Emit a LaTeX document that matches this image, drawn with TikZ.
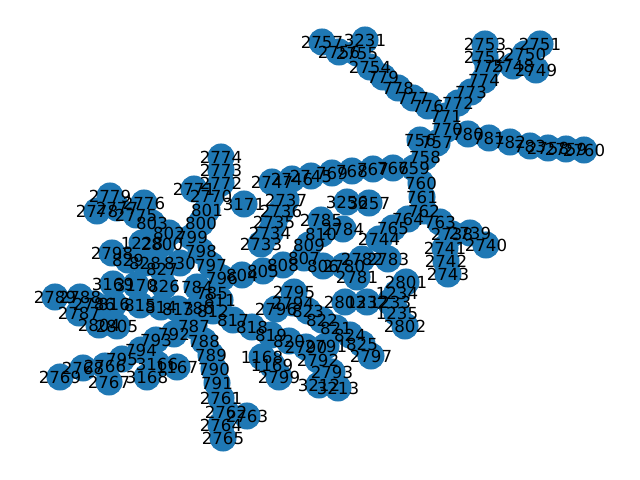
\documentclass[tikz,border=0pt]{standalone}
\usepackage{fontspec}
\setmainfont{DejaVu Sans}
\definecolor{nxblue}{HTML}{1F78B4}
\def\nodelist{2757/322/42, 3231/365/40, 2756/339/52, 2755/357/53, 2754/370/67, 779/383/77, 778/398/88, 777/413/98, 776/428/106, 771/446/116, 772/458/103, 773/471/92, 774/484/80, 775/488/67, 2752/485/57, 2753/485/44, 2748/513/66, 2750/525/54, 2751/540/44, 2749/536/70, 770/447/129, 780/468/134, 781/489/138, 782/510/142, 783/530/146, 2758/548/148, 2759/566/149, 2760/584/150, 756/420/140, 757/437/143, 758/425/157, 759/414/168, 760/421/183, 761/422/197, 762/424/211, 763/440/222, 764/408/219, 765/393/228, 2744/379/239, 2738/452/234, 2739/470/233, 2740/486/245, 2741/445/248, 2742/446/261, 2743/448/274, 766/393/168, 767/373/169, 768/352/171, 769/332/173, 2745/311/176, 2746/292/179, 2747/272/182, 2737/286/200, 2736/281/211, 2735/274/222, 2734/270/233, 2733/261/244, 3171/244/204, 3256/347/202, 3257/369/203, 2785/321/220, 2784/343/229, 810/321/234, 809/309/245, 807/304/258, 808/283/265, 805/263/271, 804/242/275, 806/323/266, 2780/344/266, 2782/362/259, 2783/388/259, 2781/357/277, 2801/406/282, 1234/397/293, 1233/390/302, 1232/367/302, 2803/345/302, 1235/397/313, 2802/405/326, 2795/294/292, 2794/293/303, 2796/276/309, 823/308/311, 822/322/320, 821/336/328, 824/350/335, 825/362/344, 2797/371/356, 818/252/327, 819/271/335, 820/289/341, 2790/306/347, 2791/326/346, 2792/318/360, 2793/332/372, 3212/319/385, 3213/338/388, 1168/262/357, 1169/272/365, 2799/279/377, 817/233/320, 811/220/300, 812/213/311, 785/212/293, 784/197/287, 786/198/308, 813/178/309, 814/161/307, 815/140/305, 816/114/304, 2786/94/304, 2788/80/297, 2789/55/297, 2787/79/313, 2804/99/325, 2805/117/326, 796/222/278, 797/211/265, 798/201/251, 799/192/237, 800/201/223, 801/207/210, 2770/211/196, 2771/194/189, 2772/221/183, 2773/221/170, 2774/221/157, 802/169/233, 803/152/223, 2775/136/215, 2776/144/203, 2777/117/208, 2778/97/211, 2779/110/196, 1228/142/243, 2800/162/244, 2798/112/253, 829/128/260, 828/145/263, 827/162/269, 830/180/263, 3169/113/284, 3170/136/285, 826/164/286, 787/194/326, 788/204/341, 789/211/355, 790/214/369, 791/217/383, 2761/221/398, 2762/226/412, 2763/247/416, 2764/221/425, 2765/223/438, 792/174/334, 793/156/340, 794/141/350, 795/122/359, 3166/157/364, 1167/177/367, 3168/147/377, 2767/109/382, 2766/105/366, 2768/83/368, 2769/60/377}
\def\edgelist{2757/2756, 2756/2755, 3231/2755, 2755/2754, 2754/779, 779/778, 778/777, 777/776, 776/771, 771/772, 772/773, 773/774, 774/775, 775/2752, 2752/2753, 775/2748, 2748/2750, 2750/2751, 2748/2749, 771/770, 770/780, 780/781, 781/782, 782/783, 783/2758, 2758/2759, 2759/2760, 770/757, 757/756, 757/758, 758/759, 759/760, 760/761, 761/762, 762/763, 763/2738, 2738/2739, 2739/2740, 2738/2741, 2741/2742, 2742/2743, 762/764, 764/765, 765/2744, 759/766, 766/767, 767/768, 768/769, 769/2745, 2745/2746, 2746/2747, 2747/2737, 2737/2736, 2736/2735, 2735/2734, 2734/2733, 3256/3257, 2785/2784, 2785/810, 810/809, 809/807, 807/808, 808/805, 805/804, 804/796, 796/797, 797/798, 798/799, 799/800, 800/801, 801/2770, 2770/2771, 2770/2772, 2772/2773, 2773/2774, 799/802, 802/803, 803/2775, 2775/2776, 2775/2777, 2777/2778, 2777/2779, 807/806, 806/2780, 2780/2782, 2782/2783, 2780/2781, 2801/1234, 1234/1233, 1233/1232, 1232/2803, 1234/1235, 1235/2802, 796/785, 785/784, 785/811, 811/812, 812/786, 786/813, 813/814, 814/815, 815/816, 816/2786, 2786/2788, 2788/2789, 2786/2787, 2787/2804, 2804/2805, 812/817, 817/818, 818/819, 819/820, 820/2790, 2790/2791, 2790/2792, 2792/2793, 2793/3212, 3212/3213, 819/1168, 1168/1169, 1169/2799, 2796/2794, 2794/2795, 2794/823, 823/822, 822/821, 821/824, 824/825, 825/2797, 786/787, 787/788, 788/789, 789/790, 790/791, 791/2761, 2761/2762, 2762/2763, 2762/2764, 2764/2765, 787/792, 792/793, 793/794, 794/795, 794/3166, 3166/1167, 3166/3168, 795/2766, 2766/2767, 2766/2768, 2768/2769, 814/826, 826/827, 827/828, 828/829, 829/2798, 827/830, 830/798, 815/3170, 3170/3169, 802/2800, 2800/1228}
\begin{document}
\begin{tikzpicture}[x=0.01in,y=-0.01in,
  vert/.style={circle,fill=nxblue,minimum size=19.54pt,inner sep=0pt},
  lab/.style={font=\fontsize{12}{14}\selectfont,inner sep=0pt,text=black},
  edge/.style={draw=black,line width=1pt}]
\useasboundingbox (0,0) rectangle (640,480);
\foreach \n/\x/\y in \nodelist { \coordinate (c\n) at (\x,\y); }
\foreach \a/\b in \edgelist { \draw[edge] (c\a) -- (c\b); }
\foreach \n/\x/\y in \nodelist { \node[vert] (n\n) at (c\n) {}; }
\foreach \n/\x/\y in \nodelist { \node[lab] (t\n) at (n\n) {\n}; }
\end{tikzpicture}
\end{document}
